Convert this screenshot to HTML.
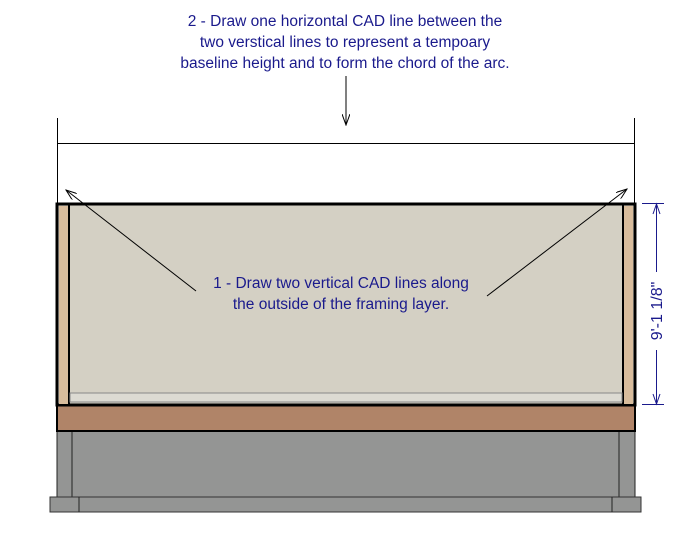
<!DOCTYPE html><html><head><style>body{margin:0;background:#fff}</style></head><body>
<svg width="675" height="533" xmlns="http://www.w3.org/2000/svg" style="display:block">
<defs><marker id="a" markerWidth="12" markerHeight="8" refX="11" refY="4" orient="auto" markerUnits="userSpaceOnUse"><path d="M0,0 L11,4 L0,8" fill="none" stroke="#000" stroke-width="1"/></marker></defs>
<rect x="57" y="431" width="578" height="66" fill="#949594" stroke="#222" stroke-width="1"/>
<line x1="72" y1="431" x2="72" y2="497" stroke="#222"/>
<line x1="619" y1="431" x2="619" y2="497" stroke="#222"/>
<rect x="50" y="497" width="591" height="15" fill="#949594" stroke="#333" stroke-width="1"/>
<line x1="79" y1="497" x2="79" y2="512" stroke="#222"/>
<line x1="612" y1="497" x2="612" y2="512" stroke="#222"/>
<rect x="57" y="405" width="578" height="26" fill="#b08468" stroke="#000" stroke-width="2"/>
<rect x="57" y="204" width="578" height="201" fill="#d4d0c4" stroke="#000" stroke-width="3"/>
<rect x="59" y="206" width="9" height="198" fill="#d8bc9c"/>
<rect x="624" y="206" width="9" height="198" fill="#d8bc9c"/>
<line x1="69" y1="205" x2="69" y2="404" stroke="#000" stroke-width="2"/>
<line x1="623" y1="205" x2="623" y2="404" stroke="#000" stroke-width="2"/>
<rect x="70" y="393" width="552" height="9" fill="#dcdad2" stroke="#888" stroke-width="1"/>
<line x1="57.5" y1="118" x2="57.5" y2="204" stroke="#000"/>
<line x1="634.5" y1="118" x2="634.5" y2="204" stroke="#000"/>
<line x1="57" y1="143.5" x2="635" y2="143.5" stroke="#000"/>
<line x1="346" y1="76" x2="346" y2="125" stroke="#000" marker-end="url(#a)"/>
<line x1="196" y1="291" x2="66" y2="190" stroke="#000" marker-end="url(#a)"/>
<line x1="487" y1="296" x2="627" y2="189" stroke="#000" marker-end="url(#a)"/>
<g stroke="#1a1a8c" stroke-width="1">
<line x1="656.5" y1="204" x2="656.5" y2="272"/>
<line x1="656.5" y1="350" x2="656.5" y2="404"/>
<line x1="642" y1="203.5" x2="664" y2="203.5"/>
<line x1="642" y1="404.5" x2="664" y2="404.5"/>
<path d="M653,214 L656.5,204 L660,214 M653,394 L656.5,404 L660,394" fill="none"/>
</g>
<text transform="translate(662,311) rotate(-90)" text-anchor="middle" font-family="Liberation Sans, sans-serif" font-size="16" fill="#1a1a8c">9'-1 1/8"</text>
<g font-family="Liberation Sans, sans-serif" font-size="15.5" fill="#1a1a8c" text-anchor="middle">
<text x="345" y="26">2 - Draw one horizontal CAD line between the</text>
<text x="345" y="47">two verstical lines to represent a tempoary</text>
<text x="345" y="68">baseline height and to form the chord of the arc.</text>
<text x="341" y="288">1 - Draw two vertical CAD lines along</text>
<text x="341" y="309">the outside of the framing layer.</text>
</g>
</svg></body></html>
